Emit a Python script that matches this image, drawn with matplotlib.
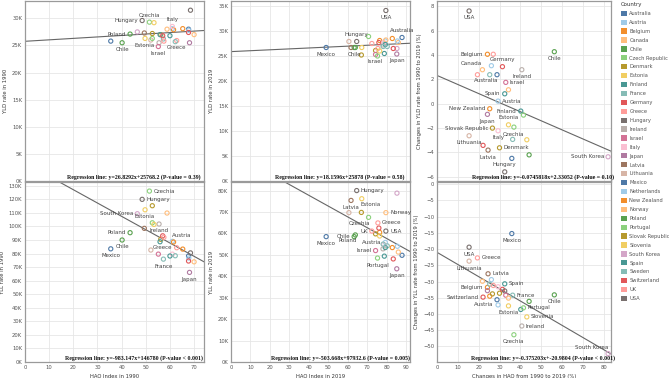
import matplotlib
matplotlib.use("Agg")
import matplotlib.pyplot as plt
import numpy as np
from matplotlib.patches import Patch
from matplotlib.ticker import FuncFormatter, MultipleLocator

# ---- data ----
countries = ["Australia", "Austria", "Belgium", "Canada", "Chile", "Czech Republic",
             "Denmark", "Estonia", "Finland", "France", "Germany", "Greece", "Hungary",
             "Ireland", "Israel", "Italy", "Japan", "Latvia", "Lithuania", "Mexico",
             "Netherlands", "New Zealand", "Norway", "Poland", "Portugal",
             "Slovak Republic", "Slovenia", "South Korea", "Spain", "Sweden",
             "Switzerland", "UK", "USA"]

haq_1990 = [67.7, 61.0, 61.5, 70.0, 40.2, 51.5, 56.2, 49.7, 55.9, 57.3, 57.0, 62.8, 48.5,
            55.5, 55.2, 61.0, 68.1, 49.4, 52.1, 35.5, 67.8, 65.3, 58.8, 43.5, 52.7,
            52.7, 53.4, 46.5, 60.0, 62.2, 67.7, 57.5, 68.5]
haq_2019 = [87.9, 79.3, 76.4, 86.0, 63.3, 70.7, 74.3, 67.2, 78.8, 80.3, 76.0, 75.5, 64.6,
            78.1, 74.3, 78.5, 85.2, 61.7, 60.6, 48.9, 85.5, 82.9, 79.6, 63.9, 75.3,
            67.0, 76.4, 85.3, 79.3, 78.2, 83.4, 72.4, 79.6]
haq_change = [28.8, 29.3, 24.2, 21.8, 56.3, 36.9, 30.0, 34.3, 40.2, 36.3, 31.4, 19.4, 32.5,
              40.7, 33.0, 29.3, 24.2, 24.5, 15.4, 35.9, 26.1, 25.3, 34.3, 44.2, 41.5,
              26.6, 43.1, 82.1, 32.5, 25.3, 22.1, 27.0, 15.4]

yld_1990 = [28000, 28100, 27900, 27000, 25500, 29300, 27000, 26300, 27000, 26200, 26800,
            25900, 29600, 25500, 24800, 28500, 25500, 27300, 26000, 25800, 27800, 28100,
            28000, 27100, 26300, 27200, 29200, 27500, 26800, 25700, 27400, 25800, 31500]
yld_2019 = [28700, 28000, 28100, 27700, 26700, 28900, 26100, 26700, 25500, 26900, 27700,
            26500, 27900, 27200, 25300, 27700, 25400, 26700, 27900, 26700, 28000, 28500,
            28200, 26700, 25000, 25200, 26000, 26500, 27300, 26900, 26500, 27500, 34100]
yld_change = [2.39, 0.22, 4.07, 2.80, 4.28, -1.92, -3.62, -1.73, -0.60, -2.93, 3.05, 2.39,
              -5.60, 2.80, 1.76, -2.22, -0.87, -3.81, -2.63, -4.49, 3.13, -0.41, 1.15,
              -4.20, -0.93, -2.00, -2.96, -4.36, 0.82, 2.39, -3.42, 4.07, 7.63]

yll_1990 = [78200, 89000, 88500, 73900, 90000, 126100, 90500, 112300, 88700, 75900, 93100,
            84300, 120000, 101800, 79600, 79600, 66100, 98600, 82600, 83500, 76700, 83300,
            109900, 95400, 102700, 115300, 101500, 109400, 78200, 78400, 74500, 92000, 80500]
yll_2019 = [49800, 55800, 60500, 51300, 58500, 67500, 59800, 76200, 49400, 54200, 62500,
            64900, 80000, 52800, 52000, 54800, 43500, 75400, 69700, 58500, 54000, 53400,
            69700, 59300, 48500, 69800, 58800, 78800, 53400, 55000, 48100, 61100, 61100]
yll_change = [-35.6, -37.2, -31.8, -29.9, -34.1, -46.4, -33.6, -37.5, -38.6, -34.2, -32.4,
              -22.7, -32.9, -43.7, -34.2, -31.6, -32.8, -27.6, -23.7, -15.2, -29.4, -34.5,
              -35.1, -36.1, -38.1, -33.8, -40.9, -52.2, -30.7, -30.8, -34.8, -31.2, -19.4]

reg_slope = [26.8292, 18.1596, -0.0745818, -983.147, -503.668, -0.375203]
reg_intercept = [25768.2, 25878, 2.33052, 146780, 97932.6, -20.9804]
reg_p = ["= 0.39", "= 0.58", "= 0.10", "< 0.001", "= 0.005", "< 0.001"]

colors = ["#4e79a7", "#a0cbe8", "#f28e2b", "#ffbe7d", "#59a14f", "#8cd17d", "#b6992d",
          "#f1ce63", "#499894", "#86bcb6", "#e15759", "#ff9d9a", "#79706e", "#bab0ac",
          "#d37295", "#fabfd2", "#b07aa1", "#9d7660", "#d7b5a6", "#4e79a7", "#a0cbe8",
          "#f28e2b", "#ffbe7d", "#59a14f", "#8cd17d", "#b6992d", "#f1ce63", "#d4a6c8",
          "#499894", "#86bcb6", "#e15759", "#ff9d9a", "#79706e"]

short = {"Czech Republic": "Czechia"}

# which points get a text label, and on which side of the point
labels = [
    {"Hungary": "l", "Czech Republic": "a", "Italy": "a", "Poland": "l", "Estonia": "b",
     "Chile": "b", "Israel": "b", "Greece": "b"},
    {"USA": "b", "Hungary": "a", "Australia": "a", "Mexico": "b", "Chile": "b",
     "Israel": "b", "Japan": "b"},
    {"USA": "b", "Belgium": "l", "Chile": "b", "Germany": "a", "Canada": "al",
     "Ireland": "b", "Australia": "bl", "Israel": "r", "Spain": "l", "Austria": "r",
     "New Zealand": "l", "Finland": "l", "Japan": "b", "Estonia": "a",
     "Slovak Republic": "l", "Italy": "b", "Czech Republic": "b", "Lithuania": "b",
     "Denmark": "r", "Latvia": "b", "Hungary": "a", "South Korea": "l"},
    {"Czech Republic": "r", "Hungary": "r", "South Korea": "l", "Estonia": "b",
     "Ireland": "b", "Poland": "l", "Austria": "ar", "Chile": "b", "Greece": "l",
     "Mexico": "b", "France": "b", "Japan": "b"},
    {"Hungary": "r", "Latvia": "b", "Estonia": "br", "Norway": "r", "Czech Republic": "bl",
     "Greece": "r", "UK": "l", "USA": "r", "Chile": "l", "Mexico": "b", "Poland": "bl",
     "Austria": "l", "Israel": "l", "Portugal": "b", "Japan": "b"},
    {"Mexico": "b", "USA": "b", "Greece": "r", "Lithuania": "b", "Latvia": "r",
     "Spain": "r", "Belgium": "l", "France": "r", "Switzerland": "l", "Chile": "b",
     "Austria": "l", "Portugal": "r", "Estonia": "b", "Slovenia": "r", "Ireland": "r",
     "Czech Republic": "b", "South Korea": "al"},
]
offs = {"b": ((0, -3.2), "center", "top"), "a": ((0, 3.2), "center", "bottom"),
        "l": ((-3, 0), "right", "center"), "r": ((3, 0), "left", "center"),
        "al": ((0, 2.5), "right", "bottom"), "ar": ((0, 2.5), "left", "bottom"),
        "bl": ((1, -2.5), "right", "top"), "br": ((-1, -2.5), "left", "top")}

panels = [
    (haq_1990, yld_1990, "YLD rate in 1990", None),
    (haq_2019, yld_2019, "YLD rate in 2019", None),
    (haq_change, yld_change, "Changes in YLD rate from 1990 to 2019 (%)", None),
    (haq_1990, yll_1990, "YLL rate in 1990", "HAQ Index in 1990"),
    (haq_2019, yll_2019, "YLL rate in 2019", "HAQ Index in 2019"),
    (haq_change, yll_change, "Changes in YLL rate from 1990 to 2019 (%)",
     "Changes in HAQ from 1990 to 2019 (%)"),
]
xlims = [(0, 74.1), (0, 92), (0, 83.5)]
ylims = [(0, 33200), (0, 36000), (-6.35, 8.45), (0, 132800), (0, 84000), (-54.8, 0.7)]
ysteps = [5000, 5000, 2, 10000, 10000, 5]

W, H = 669, 378
fig = plt.figure(figsize=(W / 100, H / 100), dpi=100)
lefts = [25, 231, 437]
widths = [179, 179, 174]
tops = [1, 182]
kfmt = FuncFormatter(lambda v, p: "%dK" % round(v / 1000))
tick_c = "#555555"

for i, (xs, ys, ylab, xlab) in enumerate(panels):
    r, c = divmod(i, 3)
    ax = fig.add_axes([lefts[c] / W, 1 - (tops[r] + 180) / H, widths[c] / W, 180 / H])
    ax.set_xlim(*xlims[c])
    ax.set_ylim(*ylims[i])
    ax.xaxis.set_major_locator(MultipleLocator(10))
    ax.yaxis.set_major_locator(MultipleLocator(ysteps[i]))
    if c < 2:
        ax.yaxis.set_major_formatter(kfmt)
    ax.grid(True, color="#e6e6e6", lw=0.6)
    ax.set_axisbelow(True)
    for s in ax.spines.values():
        s.set_color("#9a9a9a")
        s.set_linewidth(0.9)
    ax.tick_params(length=0, labelsize=3.8, colors=tick_c, pad=2)
    if r == 0:
        ax.tick_params(labelbottom=False)
    ax.set_ylabel(ylab, fontsize=3.8, color="#333333", labelpad=3)
    if xlab:
        ax.set_xlabel(xlab, fontsize=3.8, color="#333333", labelpad=3)

    ax.scatter(xs, ys, s=9, facecolors="none", edgecolors=colors, linewidths=0.8, zorder=3)

    for name, side in labels[i].items():
        k = countries.index(name)
        (dx, dy), ha, va = offs[side]
        ax.annotate(short.get(name, name), (xs[k], ys[k]), xytext=(dx, dy),
                    textcoords="offset points", ha=ha, va=va, fontsize=4.0,
                    color="#444444", zorder=4)

    lx = np.array(xlims[c])
    ax.plot(lx, reg_slope[i] * lx + reg_intercept[i], color="#666666", lw=0.8, zorder=2)

    eq = "Regression line: y=%gx+%g (P-value %s)" % (reg_slope[i], reg_intercept[i], reg_p[i])
    ax.text(0.61, 0.004, eq, transform=ax.transAxes, ha="center", va="bottom",
            fontsize=4.2, fontweight="bold", family="Liberation Serif", color="#111111",
            clip_on=False, zorder=5)

handles = [Patch(facecolor=col, edgecolor="none") for col in colors]
leg = fig.legend(handles, countries, loc="upper left", bbox_to_anchor=(619 / W, 1.0),
                 title="Country", frameon=False, fontsize=3.7, title_fontsize=3.9,
                 handlelength=1.2, handleheight=1.2, handletextpad=0.4,
                 labelspacing=0.69, borderaxespad=0, alignment="left")
for t in leg.get_texts():
    t.set_color("#555555")
leg.get_title().set_color("#333333")

fig.savefig("out.png", dpi=100)
